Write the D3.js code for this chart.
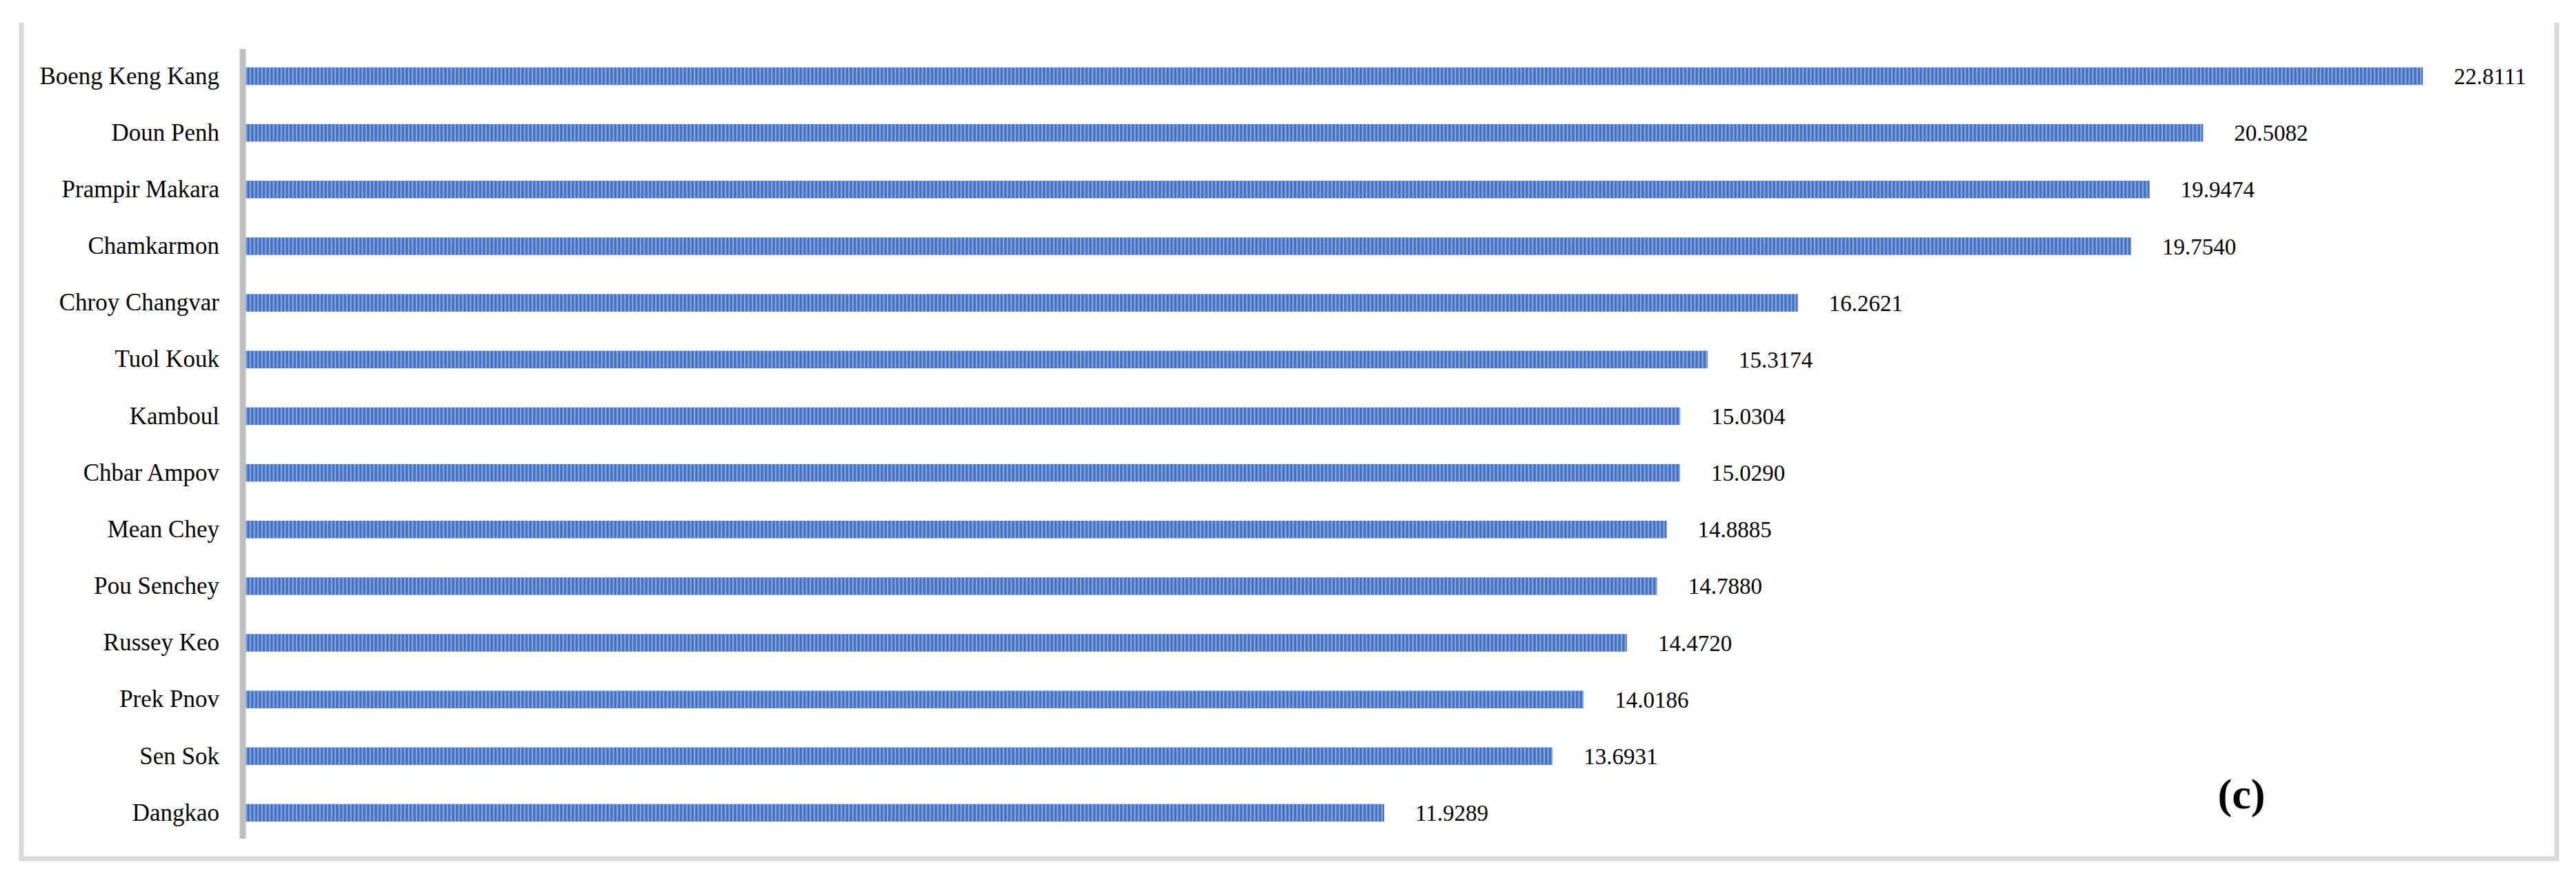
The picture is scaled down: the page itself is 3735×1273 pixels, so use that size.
<!DOCTYPE html><html><head><meta charset="utf-8"><script src="https://cdn.jsdelivr.net/npm/d3@7"></script>
<style>body{margin:0;background:#fff}</style></head><body><script>
const categories=["Boeng Keng Kang","Doun Penh","Prampir Makara","Chamkarmon","Chroy Changvar","Tuol Kouk","Kamboul","Chbar Ampov","Mean Chey","Pou Senchey","Russey Keo","Prek Pnov","Sen Sok","Dangkao"];
const values=[22.8111,20.5082,19.9474,19.7540,16.2621,15.3174,15.0304,15.0290,14.8885,14.7880,14.4720,14.0186,13.6931,11.9289];
const labels=["22.8111","20.5082","19.9474","19.7540","16.2621","15.3174","15.0304","15.0290","14.8885","14.7880","14.4720","14.0186","13.6931","11.9289"];
const W=3735,H=1273;
const svg=d3.select("body").append("svg").attr("width",W).attr("height",H);
const defs=svg.append("defs");
const p=defs.append("pattern").attr("id","st").attr("patternUnits","userSpaceOnUse").attr("width",5.6).attr("height",40);
p.append("rect").attr("width",5.6).attr("height",40).attr("fill","#8eaadb");
p.append("rect").attr("width",3.6).attr("height",40).attr("fill","#4472c4");
// frame
svg.append("path").attr("d",`M31,33 V1245 H3707 V33`).attr("fill","none").attr("stroke","#d9d9d9").attr("stroke-width",7);
const x0=356;
const x=d3.scaleLinear().domain([0,1]).range([x0,x0+138.4]);
const y=d3.scaleBand().domain(categories).range([69,1220]).paddingInner(0.69).paddingOuter(0.35);
svg.selectAll("rect.bar").data(values).join("rect").attr("class","bar")
 .attr("x",x(0)).attr("y",(d,i)=>y(categories[i])).attr("width",d=>x(d)-x(0)).attr("height",y.bandwidth())
 .attr("fill","url(#st)");
svg.append("line").attr("x1",352).attr("x2",352).attr("y1",71).attr("y2",1216).attr("stroke","#bfbfbf").attr("stroke-width",9);
const ax=d3.axisLeft(y).tickSize(0).tickPadding(0);
const g=svg.append("g").attr("transform","translate(318,0)").call(ax);
g.select(".domain").remove();
g.selectAll("text").attr("font-family","Liberation Serif").attr("font-size",35).attr("fill","#000");
svg.selectAll("text.val").data(values).join("text").attr("class","val")
 .attr("x",d=>x(d)+45).attr("y",(d,i)=>y(categories[i])+y.bandwidth()/2).attr("dy","0.35em")
 .attr("font-family","Liberation Serif").attr("font-size",33).text((d,i)=>labels[i]);
svg.append("text").attr("x",3250).attr("y",1172).attr("text-anchor","middle").attr("font-family","Liberation Serif")
 .attr("font-weight","bold").attr("font-size",62).text("(c)");
</script></body></html>
